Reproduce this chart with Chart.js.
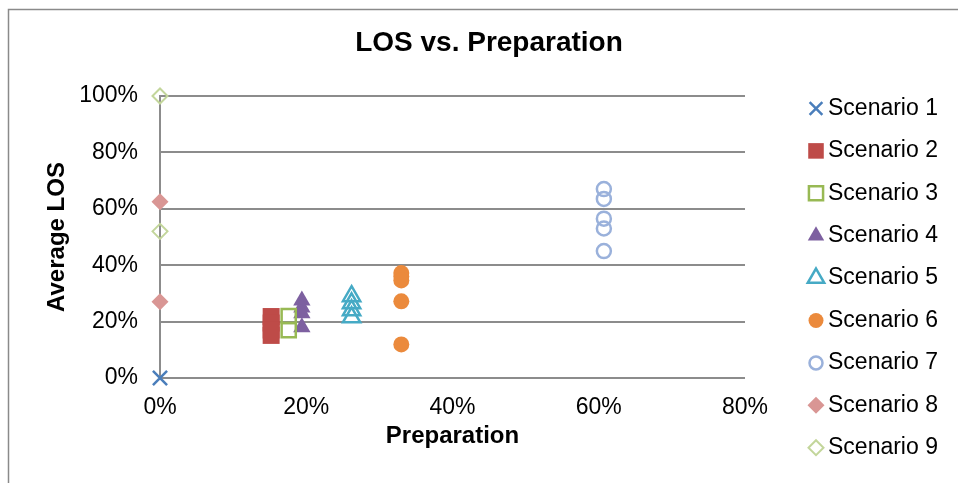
<!DOCTYPE html>
<html>
<head>
<meta charset="utf-8">
<script src="https://cdn.jsdelivr.net/npm/chart.js@4.4.0/dist/chart.umd.min.js"></script>
<style>
html, body { margin: 0; padding: 0; background: #fff; }
</style>
</head>
<body>
<canvas id="myChart" width="958" height="483"></canvas>
<script>
const chartTitle = "LOS vs. Preparation";
const scenarioNames = ["Scenario 1", "Scenario 2", "Scenario 3", "Scenario 4", "Scenario 5",
  "Scenario 6", "Scenario 7", "Scenario 8", "Scenario 9"];
// preparation (x) for each scenario
const prepValues = [0, 0.152, 0.176, 0.194, 0.262, 0.33, 0.607, 0, 0];
// average LOS (y) points for each scenario
const losS1 = [0];
const losS2 = [0.218, 0.195, 0.17, 0.151];
const losS3 = [0.22, 0.17];
const losS4 = [0.275, 0.25, 0.23, 0.18];
const losS5 = [0.29, 0.265, 0.24, 0.215];
const losS6 = [0.372, 0.36, 0.346, 0.272, 0.119];
const losS7 = [0.67, 0.635, 0.565, 0.53, 0.45];
const losS8 = [0.625, 0.27];
const losS9 = [1.0, 0.52];
const losValues = [losS1, losS2, losS3, losS4, losS5, losS6, losS7, losS8, losS9];

const xTickValues = [0, 0.2, 0.4, 0.6, 0.8];
const xTickLabels = ["0%", "20%", "40%", "60%", "80%"];
const yTickValues = [0, 0.2, 0.4, 0.6, 0.8, 1.0];
const yTickLabels = ["0%", "20%", "40%", "60%", "80%", "100%"];

const markers = [
  { style: "crossRot", r: 10, lr: 9,   color: "#4A7EBB", fill: "#4A7EBB", bw: 2.5 },
  { style: "rect",     r: 12, lr: 11,  color: "#BE4B48", fill: "#BE4B48", bw: 0 },
  { style: "rect",     r: 10, lr: 10,  color: "#98B954", fill: "rgba(255,255,255,0)", bw: 2.5 },
  { style: "triangle", r: 10, lr: 9.5, color: "#7D60A0", fill: "#7D60A0", bw: 0 },
  { style: "triangle", r: 10, lr: 9.5, color: "#46AAC5", fill: "rgba(255,255,255,0)", bw: 2.5 },
  { style: "circle",   r: 8,  lr: 7.5, color: "#EB8A3C", fill: "#EB8A3C", bw: 0 },
  { style: "circle",   r: 7,  lr: 6.5, color: "#9AB1DB", fill: "rgba(255,255,255,0)", bw: 2.5 },
  { style: "rectRot",  r: 8.5,lr: 8.5, color: "#D99694", fill: "#D99694", bw: 0 },
  { style: "rectRot",  r: 7.5,lr: 7.5, color: "#C3D69B", fill: "rgba(255,255,255,0)", bw: 2 }
];

const FONT = 'Arial, "Liberation Sans", sans-serif';
Chart.defaults.font.family = FONT;
Chart.defaults.color = "#000";

const datasets = scenarioNames.map((name, i) => ({
  label: name,
  data: losValues[i].map(v => ({ x: prepValues[i], y: v })),
  pointStyle: markers[i].style,
  pointRadius: markers[i].r,
  pointBorderWidth: markers[i].bw,
  pointBorderColor: markers[i].color,
  pointBackgroundColor: markers[i].fill,
  showLine: false,
  clip: false
}));

// white background, outer frame and the chart title
const frame = {
  id: "frame",
  beforeDraw(chart) {
    const ctx = chart.ctx;
    ctx.save();
    ctx.fillStyle = "#fff";
    ctx.fillRect(0, 0, chart.width, chart.height);
    ctx.strokeStyle = "#8a8a8a";
    ctx.lineWidth = 1.5;
    ctx.strokeRect(8.5, 9.5, 1000, 600);
    ctx.fillStyle = "#000";
    ctx.font = "bold 28px " + FONT;
    ctx.textAlign = "center";
    ctx.textBaseline = "middle";
    ctx.fillText(chartTitle, 489, 43);
    ctx.restore();
  }
};

const sideLegend = {
  id: "sideLegend",
  afterDraw(chart) {
    const ctx = chart.ctx;
    ctx.save();
    scenarioNames.forEach((name, i) => {
      const y = 108.5 + i * 42.4;
      const m = markers[i];
      ctx.fillStyle = m.fill;
      ctx.strokeStyle = m.color;
      ctx.lineWidth = m.bw;
      Chart.helpers.drawPoint(ctx, {
        pointStyle: m.style, radius: m.lr, borderWidth: m.bw, rotation: 0
      }, 816, y);
      ctx.fillStyle = "#000";
      ctx.font = "23px " + FONT;
      ctx.textBaseline = "middle";
      ctx.textAlign = "left";
      ctx.fillText(name, 828, y);
    });
    ctx.restore();
  }
};

new Chart("myChart", {
  type: "scatter",
  data: { datasets: datasets },
  options: {
    responsive: false,
    animation: false,
    events: [],
    layout: { padding: { left: 20, right: 213, top: 96, bottom: 0 } },
    plugins: {
      legend: { display: false },
      tooltip: { enabled: false },
      title: { display: false }
    },
    scales: {
      x: {
        type: "linear",
        min: 0,
        max: 0.8,
        afterBuildTicks(scale) { scale.ticks = xTickValues.map(v => ({ value: v })); },
        afterFit(scale) { scale.height = 105; },
        ticks: {
          font: { size: 23 },
          color: "#000",
          padding: 16,
          maxRotation: 0,
          callback: (v, i) => xTickLabels[i]
        },
        grid: { display: false, drawTicks: false },
        border: { display: false },
        title: {
          display: true,
          text: "Preparation",
          font: { size: 24, weight: "bold" },
          color: "#000",
          padding: { top: 0, bottom: 32.6 }
        }
      },
      y: {
        type: "linear",
        min: 0,
        max: 1,
        afterBuildTicks(scale) { scale.ticks = yTickValues.map(v => ({ value: v })); },
        afterFit(scale) { scale.width = 140; },
        ticks: {
          font: { size: 23 },
          color: "#000",
          padding: 22,
          callback: (v, i) => yTickLabels[i]
        },
        grid: { color: "#8c8c8c", lineWidth: 2, drawTicks: false },
        border: { display: true, color: "#8c8c8c", width: 2 },
        title: {
          display: true,
          text: "Average LOS",
          font: { size: 24, weight: "bold" },
          color: "#000",
          padding: { top: 22.6, bottom: 0 }
        }
      }
    }
  },
  plugins: [frame, sideLegend]
});
</script>
</body>
</html>
